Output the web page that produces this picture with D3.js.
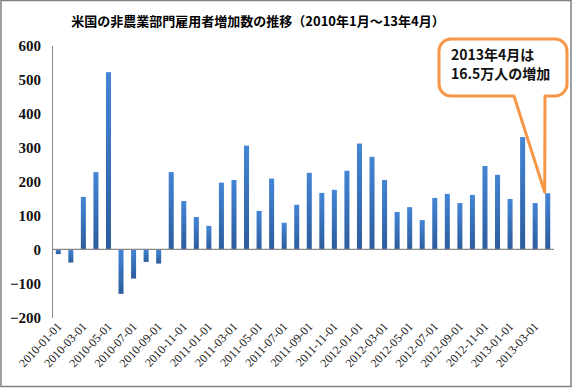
<!DOCTYPE html>
<html lang="ja">
<head>
<meta charset="UTF-8">
<title>米国の非農業部門雇用者増加数の推移</title>
<script src="https://d3js.org/d3.v7.min.js"></script>
<style>
  html, body { margin: 0; padding: 0; background: #fff; }
  .chart { width: 572px; height: 388px; }
</style>
</head>
<body>
<div class="chart"></div>
<script>
// 月次データ（千人）
const months = [
  '2010-01-01','2010-02-01','2010-03-01','2010-04-01','2010-05-01','2010-06-01',
  '2010-07-01','2010-08-01','2010-09-01','2010-10-01','2010-11-01','2010-12-01',
  '2011-01-01','2011-02-01','2011-03-01','2011-04-01','2011-05-01','2011-06-01',
  '2011-07-01','2011-08-01','2011-09-01','2011-10-01','2011-11-01','2011-12-01',
  '2012-01-01','2012-02-01','2012-03-01','2012-04-01','2012-05-01','2012-06-01',
  '2012-07-01','2012-08-01','2012-09-01','2012-10-01','2012-11-01','2012-12-01',
  '2013-01-01','2013-02-01','2013-03-01','2013-04-01'
]
const payrolls = [
  -14, -39, 154, 227, 521, -131, -86, -37, -42, 227, 142, 95,
  69, 196, 204, 305, 113, 208, 78, 131, 225, 166, 175, 231,
  311, 272, 204, 110, 124, 86, 151, 163, 136, 160, 245, 219,
  148, 330, 136, 165
]
const yTicks = [-200, -100, 0, 100, 200, 300, 400, 500, 600]
const title = '米国の非農業部門雇用者増加数の推移（2010年1月～13年4月）'
const noteLines = ['2013年4月は', '16.5万人の増加']

const W = 572, H = 388
const svg = d3.select('.chart').append('svg')
  .attr('width', W).attr('height', H)

// 枠線
svg.append('rect')
  .attr('x', 1).attr('y', 0.5).attr('width', W - 2).attr('height', H - 2)
  .attr('fill', '#fff').attr('stroke', '#808080').attr('stroke-width', 1.5)

// グラデーション
const grad = svg.append('defs').append('linearGradient')
  .attr('id', 'barGrad').attr('x1', 0).attr('y1', 0).attr('x2', 0).attr('y2', 1)
grad.append('stop').attr('offset', '0%').attr('stop-color', '#4485d6')
grad.append('stop').attr('offset', '100%').attr('stop-color', '#2c5c9c')

svg.append('text')
  .attr('x', 258).attr('y', 26)
  .attr('text-anchor', 'middle')
  .style('font-family', '"Noto Sans CJK JP"')
  .style('font-weight', 'bold')
  .style('font-size', '13px')
  .text(title)

const xScale = d3.scaleBand()
  .domain(months)
  .range([52, 554])
  .paddingInner(0.6)
  .paddingOuter(0.3)

const yScale = d3.scaleLinear()
  .domain([-200, 600])
  .range([317.3, 45.3])

// Y軸
const yAxis = d3.axisLeft(yScale).tickValues(yTicks).tickSize(0).tickPadding(11)
const gy = svg.append('g').attr('transform', 'translate(52,0)').call(yAxis)
gy.select('.domain').attr('stroke', '#888')
gy.selectAll('text')
  .style('font-family', '"Liberation Serif", serif')
  .style('font-size', '15px')
  .style('font-weight', 'bold')
  .attr('fill', '#111')

// 棒
svg.append('g')
  .selectAll('rect')
  .data(payrolls)
  .enter()
  .append('rect')
  .attr('x', (d, i) => xScale(months[i]))
  .attr('width', xScale.bandwidth())
  .attr('y', d => yScale(Math.max(0, d)))
  .attr('height', d => Math.abs(yScale(d) - yScale(0)))
  .attr('fill', 'url(#barGrad)')

// X軸（ゼロ線）
svg.append('line')
  .attr('x1', 52).attr('x2', 554)
  .attr('y1', yScale(0)).attr('y2', yScale(0))
  .attr('stroke', '#888').attr('stroke-width', 1.2)

// X軸ラベル（2か月おき）
svg.append('g')
  .selectAll('text')
  .data(months.filter((m, i) => i % 2 === 0))
  .enter()
  .append('text')
  .attr('transform', d => `translate(${xScale(d) + xScale.bandwidth() / 2 + 4},327) rotate(-47)`)
  .attr('text-anchor', 'end')
  .style('font-family', '"Liberation Serif", serif')
  .style('font-size', '12px')
  .attr('fill', '#111')
  .text(d => d)

// 吹き出し
const last = months[months.length - 1]
const tipX = xScale(last) + xScale.bandwidth() / 2 - 3
const tipY = yScale(payrolls[payrolls.length - 1]) - 1
const bx = 439, by = 39, bw = 128, bh = 57, r = 12
const p = d3.path()
p.moveTo(bx + r, by)
p.lineTo(bx + bw - r, by)
p.arcTo(bx + bw, by, bx + bw, by + r, r)
p.lineTo(bx + bw, by + bh - r)
p.arcTo(bx + bw, by + bh, bx + bw - r, by + bh, r)
p.lineTo(545, by + bh)
p.lineTo(tipX, tipY)
p.lineTo(514, by + bh)
p.lineTo(bx + r, by + bh)
p.arcTo(bx, by + bh, bx, by + bh - r, r)
p.lineTo(bx, by + r)
p.arcTo(bx, by, bx + r, by, r)
p.closePath()
svg.append('path')
  .attr('d', p.toString())
  .attr('fill', '#fff')
  .attr('stroke', '#f79646')
  .attr('stroke-width', 3)
  .attr('stroke-linejoin', 'round')

svg.append('g')
  .selectAll('text')
  .data(noteLines)
  .enter()
  .append('text')
  .attr('x', 451)
  .attr('y', (d, i) => 60 + i * 19)
  .style('font-family', '"Noto Sans CJK JP"')
  .style('font-weight', 'bold')
  .style('font-size', '14px')
  .attr('fill', '#111')
  .text(d => d)
</script>
</body>
</html>
